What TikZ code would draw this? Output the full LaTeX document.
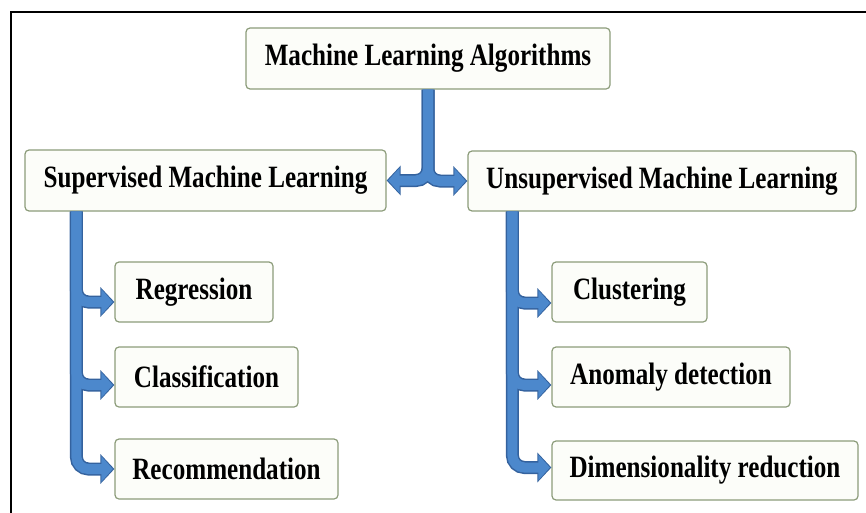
\documentclass[tikz,border=0pt]{standalone}
\usepackage{fontspec}
\newfontfamily\mlfont{Liberation Serif}[FakeStretch=0.81]
\usetikzlibrary{arrows.meta}

\definecolor{mlblue}{RGB}{76,136,204}
\definecolor{mlblueedge}{RGB}{52,98,158}
\definecolor{boxline}{RGB}{140,156,122}
\definecolor{boxfill}{RGB}{252,253,249}

\begin{document}
\begin{tikzpicture}[x=1pt, y=-1pt,
    mlbox/.style={draw=boxline, fill=boxfill, line width=1.2pt, rounded corners=4pt,
        inner sep=0pt, minimum height=60pt, font=\mlfont\bfseries\fontsize{31}{34}\selectfont},
    flowedge/.style={draw=mlblueedge, line width=13pt, rounded corners=12pt,
        -{Triangle[length=14pt, width=29pt]}},
    flowbody/.style={draw=mlblue, line width=10pt, rounded corners=12pt, shorten >=1.6pt,
        -{Triangle[length=11.5pt, width=25pt]}}
]
    \useasboundingbox (0,0) rectangle (866,513);

    % Frame
    \draw[line width=2.5pt] (11,513) -- (11,12) -- (866,12);

    % Top
    \node[mlbox, minimum width=364pt, minimum height=61pt] (algo) at (428,58.5) {Machine Learning Algorithms};

    % Two families
    \node[mlbox, minimum width=361pt, minimum height=61pt] (sup) at (205.5,180.5) {Supervised Machine Learning};
    \node[mlbox, minimum width=388pt] (unsup) at (662,181) {Unsupervised Machine Learning};

    % Supervised tasks
    \node[mlbox, minimum width=158pt] (reg) at (194,292) {Regression};
    \node[mlbox, minimum width=183pt] (cls) at (206.5,377) {Classification};
    \node[mlbox, minimum width=223pt] (rec) at (226.5,469) {Recommendation};

    % Unsupervised tasks
    \node[mlbox, minimum width=155pt] (clu) at (629.5,292) {Clustering};
    \node[mlbox, minimum width=238pt] (ano) at (671,377) {Anomaly detection};
    \node[mlbox, minimum width=306pt, minimum height=59pt] (dim) at (705,470.5) {Dimensionality reduction};

    % Block arrows: dark edge first, then the body
    \foreach \lay in {flowedge, flowbody} {
        \draw[\lay] (algo.south) |- (sup.east);
        \draw[\lay] (algo.south) |- (unsup.west);
        \draw[\lay] ([xshift=52pt]sup.south west) |- ([yshift=-10pt]reg.west);
        \draw[\lay] ([xshift=52pt]sup.south west) |- ([yshift=-8pt]cls.west);
        \draw[\lay] ([xshift=52pt]sup.south west) |- (rec.west);
        \draw[\lay] ([xshift=45pt]unsup.south west) |- ([yshift=-11pt]clu.west);
        \draw[\lay] ([xshift=45pt]unsup.south west) |- ([yshift=-8pt]ano.west);
        \draw[\lay] ([xshift=45pt]unsup.south west) |- ([yshift=3pt]dim.west);
    }
\end{tikzpicture}
\end{document}
